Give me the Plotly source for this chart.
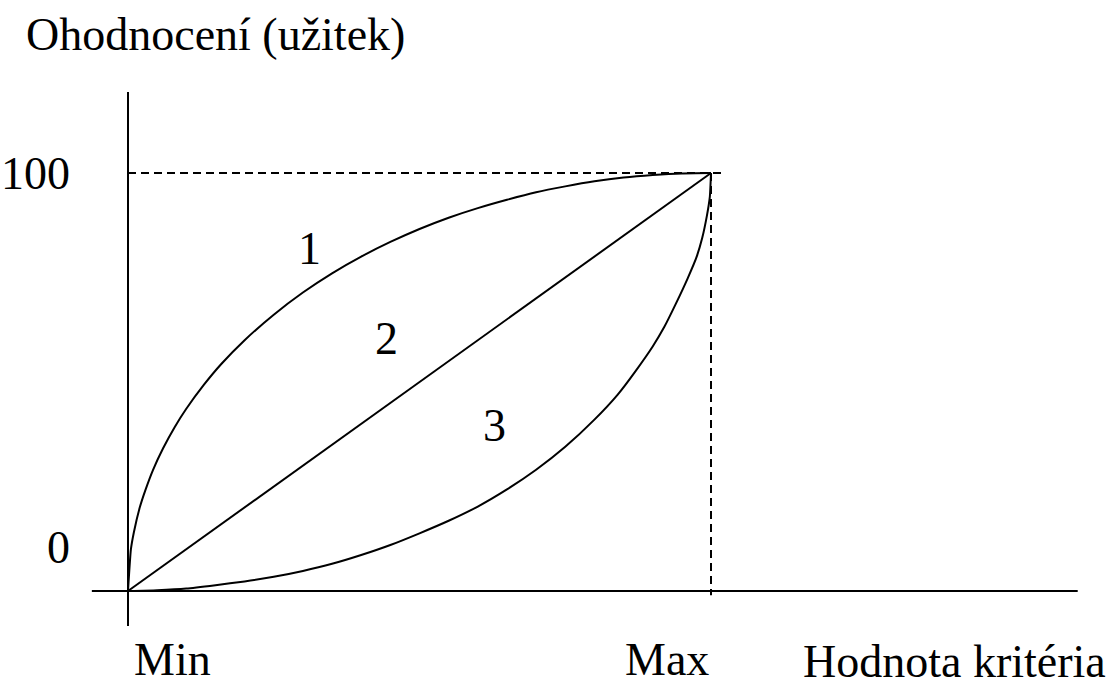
import plotly.graph_objects as go

# Curve 1 (concave utility)
curve1_x = [0, 0.5, 1, 2, 3, 4.3, 6, 8, 10, 13, 16, 20, 25, 30, 35, 40, 45, 50,
            55, 60, 65, 70, 75, 80, 85, 90, 95, 100]
curve1_y = [0, 10, 14, 19.9, 24.2, 29, 34.1, 39.2, 43.6, 49.3, 54.3, 60, 66.1, 71.4,
            76, 80, 83.5, 86.6, 89.3, 91.6, 93.6, 95.4, 96.8, 98, 98.9, 99.5, 99.9, 100]
# Curve 2 (linear)
curve2_x = [0, 100]
curve2_y = [0, 100]
# Curve 3 (convex)
curve3_x = [0, 5, 10, 15, 20, 25, 30, 35, 40, 45, 50, 55, 60, 65, 70, 75, 80, 84,
            87, 90, 92, 94, 96, 97.5, 98.5, 99.3, 99.8, 100]
curve3_y = [0, 0.2, 0.6, 1.4, 2.3, 3.4, 4.8, 6.5, 8.6, 11, 13.8, 16.8, 20.2, 24.3,
            29, 34.5, 41, 47, 52.5, 58.5, 63.2, 68.8, 74.8, 79.8, 84.5, 89.8, 94.3, 100]

curve_labels = ["1", "2", "3"]
curve_label_x = [31.2, 44.3, 62.9]
curve_label_y = [81.9, 60.5, 39.7]

y_tick_labels = ["100", "0"]
y_tick_pos = [100, 10.3]
x_tick_labels = ["Min", "Max"]
x_tick_pos = [0, 100]

y_title = "Ohodnocení (užitek)"
x_title = "Hodnota kritéria"

W, H = 1113, 688
x0px, xscale = 128, 5.83   # pixel of x=0, pixels per unit
y0px, yscale = 591, 4.18   # pixel of y=0, pixels per unit

FONT = "Liberation Serif, Times New Roman, serif"
FS = 46
LINE = dict(color="black", width=2)

fig = go.Figure()
for xs, ys in [(curve1_x, curve1_y), (curve2_x, curve2_y), (curve3_x, curve3_y)]:
    fig.add_trace(go.Scatter(x=xs, y=ys, mode="lines",
                             line=dict(color="black", width=2, shape="spline", smoothing=0.5),
                             hoverinfo="skip"))

# axes lines
fig.add_shape(type="line", xref="x", yref="y", x0=0, x1=0, y0=-8.4, y1=119.4, line=LINE)
fig.add_shape(type="line", xref="x", yref="y", x0=-6.2, x1=162.9, y0=0, y1=0, line=LINE)
# dashed guides
DASH = dict(color="black", width=2, dash="8px,5px")
fig.add_shape(type="line", xref="x", yref="y", x0=0, x1=101.9, y0=100, y1=100, line=DASH)
fig.add_shape(type="line", xref="x", yref="y", x0=100, x1=100, y0=100, y1=-1.0, line=DASH)

annots = []
for t, x, y in zip(curve_labels, curve_label_x, curve_label_y):
    annots.append(dict(text=t, x=x, y=y, xref="x", yref="y", showarrow=False,
                       font=dict(family=FONT, size=FS, color="black")))
for t, y in zip(y_tick_labels, y_tick_pos):
    annots.append(dict(text=t, x=-9.6, y=y, xref="x", yref="y", xanchor="right",
                       showarrow=False, font=dict(family=FONT, size=FS, color="black")))
for t, x, xa in zip(x_tick_labels, x_tick_pos, ["left", "right"]):
    annots.append(dict(text=t, x=x + (0.6 if xa == "left" else 0), y=-16.5, xref="x", yref="y",
                       xanchor=xa, showarrow=False,
                       font=dict(family=FONT, size=FS, color="black")))
annots.append(dict(text=x_title, x=1108 / W, y=1 - 661 / H, xref="paper", yref="paper",
                   xanchor="right", yanchor="middle", showarrow=False,
                   font=dict(family=FONT, size=FS, color="black")))
annots.append(dict(text=y_title, x=24 / W, y=1 - 35 / H, xref="paper", yref="paper",
                   xanchor="left", yanchor="middle", showarrow=False,
                   font=dict(family=FONT, size=FS, color="black")))

fig.update_layout(
    width=W, height=H,
    margin=dict(l=0, r=0, t=0, b=0),
    paper_bgcolor="white", plot_bgcolor="white",
    showlegend=False,
    xaxis=dict(range=[-x0px / xscale, (W - x0px) / xscale], visible=False, fixedrange=True),
    yaxis=dict(range=[-(H - y0px) / yscale, y0px / yscale], visible=False, fixedrange=True),
    annotations=annots,
)

fig.write_html("out.html", config={"displayModeBar": False},
               post_script="document.body.style.margin='0';document.body.style.overflow='hidden';")
